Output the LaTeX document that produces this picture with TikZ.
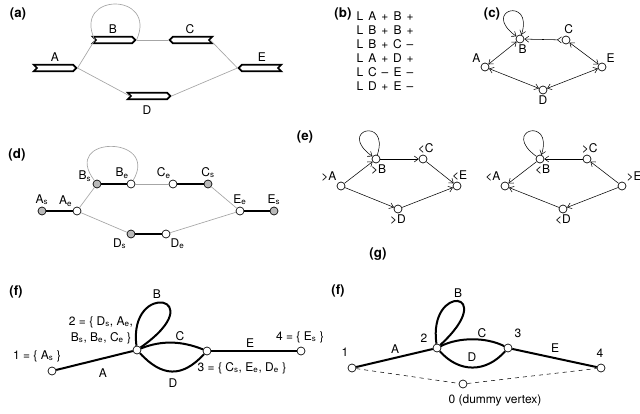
\documentclass[tikz,border=0pt]{standalone}
\usepackage{fontspec}
\setmainfont{TeX Gyre Heros}
\usepackage{tikz}
\usetikzlibrary{arrows.meta, shapes.symbols}

\tikzset{
	seg/.style = {signal, draw, line width = 1.3pt, fill = white, inner sep = 0pt, minimum width = 32pt, minimum height = 5pt},
	link/.style = {gray!70, line width = 0.5pt},
	vtx/.style = {circle, draw, fill = white, line width = 0.5pt, inner sep = 0pt, minimum size = 6pt},
	vtxs/.style = {vtx, fill = gray!55},
	strand/.style = {line width = 1.7pt},
	fedge/.style = {line width = 1.5pt},
	tip/.style = {-{Straight Barb[length = 3pt, width = 4.5pt]}},
	bi/.style = {{Straight Barb[length = 3pt, width = 4.5pt]}-{Straight Barb[length = 3pt, width = 4.5pt]}},
	bir/.style = {{Straight Barb[length = 3pt, width = 4.5pt]}-{Straight Barb[length = 3pt, width = 4.5pt, reversed]}},
	panel/.style = {font = \fontsize{10}{12}\selectfont\bfseries},
	every label/.style = {inner sep = 1pt},
}

\begin{document}
\begin{tikzpicture}[x = 0.75pt, y = -0.75pt, font = \fontsize{9}{11}\selectfont, thin]
							\useasboundingbox (0,0) rectangle (640,414);

							% (a)
							\node [panel] (la) at (18,14) {(a)};
							\node [seg, signal to = east, signal from = west] (sA) at (55,68) {};
							\node [seg, signal to = east, signal from = west] (sB) at (114,40) {};
							\node [seg, signal to = west, signal from = east] (sC) at (191,40) {};
							\node [seg, signal to = west, signal from = east] (sE) at (260,68) {};
							\node [seg, signal to = east, signal from = west] (sD) at (149,96) {};
							\node (tA) at (55,57) {A};
							\node (tB) at (113,29) {B};
							\node (tC) at (190,29) {C};
							\node (tE) at (262,57) {E};
							\node (tD) at (147,110) {D};
							\begin{scope}[link]
								\draw (sA.east) -- (sB.west);
								\draw (sA.east) -- (sD.west);
								\draw (sB.east) -- (sC.west);
								\draw (sC.east) -- (sE.west);
								\draw (sD.east) -- (sE.west);
								\draw (sB.west) .. controls (72,-8) and (158,-8) .. (sB.east);
							\end{scope}

							% (b)
							\node [panel] (lb) at (343,14) {(b)};
							\foreach \p/\u/\q/\v [count = \i] in {A/+/B/+, B/+/B/+, B/+/C/\textendash, A/+/D/+, C/\textendash/E/\textendash, D/+/E/\textendash}
							{
								\node (row\i) at (385,2+14*\i) {\makebox[9.4pt]{L}\makebox[9.4pt]{\p}\makebox[9.4pt]{\u}\makebox[9.4pt]{\q}\makebox[9.4pt]{\v}};
							}

							% (c)
							\node [panel] (lc) at (492,14) {(c)};
							\node [vtx, label = above left:A] (cA) at (485,67) {};
							\node [vtx, label = {[xshift = 2pt]below:B}] (cB) at (520,39) {};
							\node [vtx, label = {[xshift = 2pt]above:C}] (cC) at (566,40) {};
							\node [vtx, label = above right:E] (cE) at (602,67) {};
							\node [vtx, label = below:D] (cD) at (543,90) {};
							\draw [bi] (cA) -- (cB);
							\draw [bi] (cA) -- (cD);
							\draw [bir] (cB) -- (cC);
							\draw [bi] (cE) -- (cC);
							\draw [bi] (cD) -- (cE);
							\draw [bi] (cB) .. controls (534,-4) and (480,10) .. (cB);

							% (d)
							\node [panel] (ld) at (17,155) {(d)};
							\node [vtxs, label = above:A\textsubscript{s}] (dAs) at (42,211) {};
							\node [vtx, label = above left:A\textsubscript{e}] (dAe) at (77,211) {};
							\node [vtxs, label = 165:B\textsubscript{s}] (dBs) at (97,184) {};
							\node [vtx, label = 100:B\textsubscript{e}] (dBe) at (131,184) {};
							\node [vtx, label = 100:C\textsubscript{e}] (dCe) at (173,184) {};
							\node [vtxs, label = above:C\textsubscript{s}] (dCs) at (208,184) {};
							\node [vtx, label = above:E\textsubscript{e}] (dEe) at (240,211) {};
							\node [vtxs, label = above:E\textsubscript{s}] (dEs) at (274,211) {};
							\node [vtxs, label = below left:D\textsubscript{s}] (dDs) at (131,234) {};
							\node [vtx, label = below right:D\textsubscript{e}] (dDe) at (166,234) {};
							\begin{scope}[link]
								\draw (dAe) -- (dBs);
								\draw (dAe) -- (dDs);
								\draw (dBe) -- (dCe);
								\draw (dCs) -- (dEe);
								\draw (dDe) -- (dEe);
								\draw (dBs) .. controls (60,135) and (160,135) .. (dBe);
							\end{scope}
							\begin{scope}[strand]
								\draw (dAs) -- (dAe);
								\draw (dBs) -- (dBe);
								\draw (dCe) -- (dCs);
								\draw (dDs) -- (dDe);
								\draw (dEe) -- (dEs);
							\end{scope}

							% (e)
							\node [panel] (le) at (305,137) {(e)};
							\node [vtx, label = above left:>A] (pA) at (341,186) {};
							\node [vtx, label = {[xshift = 2pt]below:>B}] (pB) at (376,159) {};
							\node [vtx, label = {[xshift = 2pt]above:<C}] (pC) at (423,159) {};
							\node [vtx, label = {[xshift = 2pt]above:<E}] (pE) at (457,186) {};
							\node [vtx, label = below:>D] (pD) at (398,209) {};
							\node [vtx, label = above left:<A] (mA) at (505,186) {};
							\node [vtx, label = {[xshift = 2pt]below:<B}] (mB) at (540,159) {};
							\node [vtx, label = {[xshift = 2pt]above:>C}] (mC) at (587,159) {};
							\node [vtx, label = above right:>E] (mE) at (622,186) {};
							\node [vtx, label = below:<D] (mD) at (563,209) {};
							\begin{scope}[tip]
								\draw (pA) -- (pB);
								\draw (pB) -- (pC);
								\draw (pC) -- (pE);
								\draw (pA) -- (pD);
								\draw (pD) -- (pE);
								\draw (pB) .. controls (390,116) and (336,130) .. (pB);
								\draw (mC) -- (mB);
								\draw (mB) -- (mA);
								\draw (mE) -- (mC);
								\draw (mE) -- (mD);
								\draw (mD) -- (mA);
								\draw (mB) .. controls (500,130) and (554,116) .. (mB);
							\end{scope}
							\node [panel] (lg) at (378,254) {(g)};

							% (f), contracted graph
							\node [panel] (lf) at (16,292) {(f)};
							\node [vtx] (f1) at (52,371) {};
							\node [vtx] (f2) at (137,350) {};
							\node [vtx] (f3) at (207,351) {};
							\node [vtx] (f4) at (301,351) {};
							\begin{scope}[fedge]
								\draw (f1) -- (f2);
								\draw (f3) -- (f4);
								\draw (f2) .. controls +(25,-10) and +(-25,-10) .. (f3);
								\draw (f2) .. controls +(25,27) and +(-25,27) .. (f3);
								\draw (f2) .. controls (128,280) and (214,296) .. (f2);
							\end{scope}
							\node (f1t) at (37,356) {1 = \{ A\textsubscript{s} \}};
							\node [align = center, font = \fontsize{9}{12}\selectfont] (f2t) at (101,330) {2 = \{ D\textsubscript{s}, A\textsubscript{e},\\ B\textsubscript{s}, B\textsubscript{e}, C\textsubscript{e} \}};
							\node (f3t) at (242,368) {3 = \{ C\textsubscript{s}, E\textsubscript{e}, D\textsubscript{e} \}};
							\node (f4t) at (300,337) {4 = \{ E\textsubscript{s} \}};
							\node (fA) at (103,373) {A};
							\node (fB) at (157,294) {B};
							\node (fC) at (180,336) {C};
							\node (fD) at (173,383) {D};
							\node (fE) at (250,343) {E};

							% (f), with dummy vertex
							\node [panel] (lh) at (338,291) {(f)};
							\node [vtx] (h1) at (352,368) {};
							\node [vtx] (h2) at (437,348) {};
							\node [vtx] (h3) at (508,348) {};
							\node [vtx] (h4) at (601,368) {};
							\node [vtx] (h0) at (463,384) {};
							\begin{scope}[fedge]
								\draw (h1) -- (h2);
								\draw (h3) -- (h4);
								\draw (h2) .. controls +(22,-11) and +(-22,-11) .. (h3);
								\draw (h2) .. controls +(22,25) and +(-22,25) .. (h3);
								\draw (h2) .. controls (428,283) and (500,290) .. (h2);
							\end{scope}
							\draw [dashed] (h1) -- (h0) -- (h4);
							\node (h1t) at (345,352) {1};
							\node (h2t) at (424,338) {2};
							\node (h3t) at (518,333) {3};
							\node (h4t) at (600,353) {4};
							\node (hA) at (395,349) {A};
							\node (hB) at (458,293) {B};
							\node (hC) at (482,333) {C};
							\node (hD) at (472,357) {D};
							\node (hE) at (555,348) {E};
							\node (h0t) at (495,400) {0 (dummy vertex)};
						\end{tikzpicture}
\end{document}
